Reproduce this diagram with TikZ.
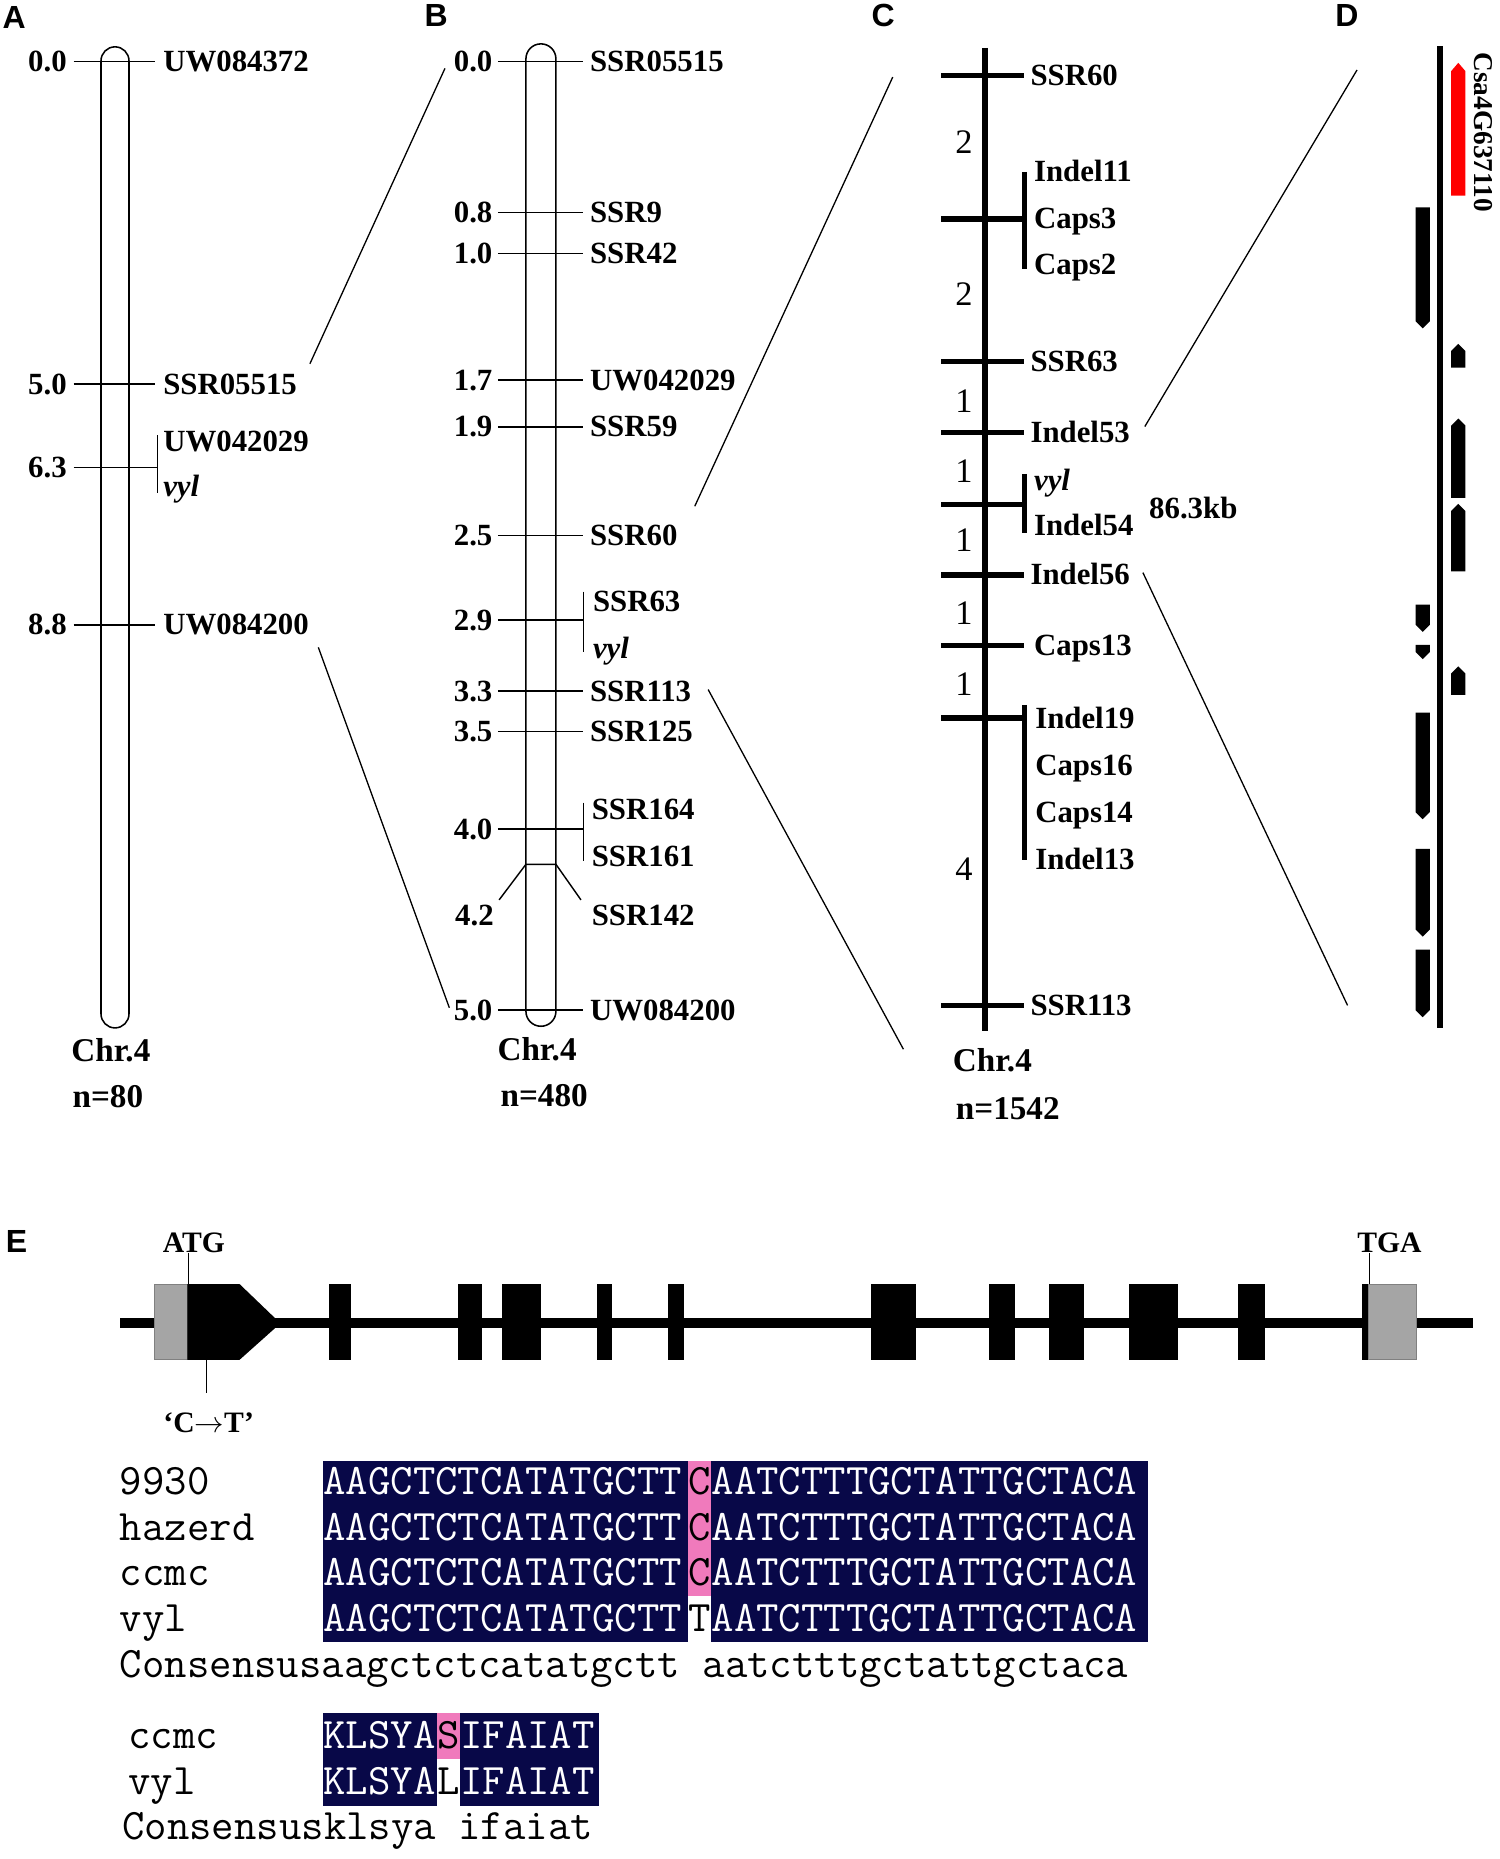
\documentclass[tikz,border=0pt]{standalone}
\usepackage{fontspec}
\setmainfont{Liberation Serif}
\setsansfont{Liberation Sans}
\definecolor{alnblue}{RGB}{8,8,72}
\definecolor{alnpink}{RGB}{240,122,188}
\definecolor{utrgray}{RGB}{165,165,165}
\newcommand{\seq}[1]{{\ttfamily\fontsize{36.7}{36.7}\selectfont #1}}
\begin{document}
\begin{tikzpicture}[x=1pt, y=-1pt,
    every node/.style={inner sep=0pt, text depth=0pt},
    mlabel/.style={font=\bfseries\fontsize{26}{28}\selectfont, text height=17pt},
    vlabel/.style={font=\bfseries\itshape\fontsize{26}{28}\selectfont, text height=17pt},
    chrlabel/.style={font=\bfseries\fontsize{28}{30}\selectfont, text height=18.5pt},
    panel/.style={font=\sffamily\bfseries\fontsize{27}{29}\selectfont, text height=19.3pt},
    intnum/.style={font=\fontsize{29}{31}\selectfont, text height=19.6pt},
    chrom/.style={line width=1.3pt},
    tick/.style={line width=1.2pt},
    zoomline/.style={line width=1.1pt},
    seqtext/.style={text height=22.4pt}]

    % Define page
    \useasboundingbox (0,0) rectangle (1265,1568);
    \fill[white] (0,0) rectangle (1265,1568);

    % Panel A
    \node[panel] (pA) at (12,14) {A};
    \draw[chrom, rounded corners=11.8pt] (85.2,39.5) rectangle (108.8,867);
    \foreach \y/\cm/\nm in {52/0.0/UW084372, 324/5.0/SSR05515, 527/8.8/UW084200}{
        \draw[tick] (62,\y) -- (131,\y);
        \node[mlabel, anchor=east] (acm\nm) at (56.5,\y) {\cm};
        \node[mlabel, anchor=west] (a\nm) at (137.5,\y) {\nm};
    }
    \draw[tick] (62,394.5) -- (132.7,394.5);
    \draw[tick] (132.7,367) -- (132.7,416);
    \node[mlabel, anchor=east] (acmvyl) at (56.5,394.5) {6.3};
    \node[mlabel, anchor=west] (aUW042029) at (137.5,372.6) {UW042029};
    \node[vlabel, anchor=west] (avyl) at (137.5,410) {vyl};
    \node[chrlabel] (achr) at (93.5,886) {Chr.4};
    \node[chrlabel] (an) at (91,925) {n=80};

    % Panel B
    \node[panel] (pB) at (368,13) {B};
    \draw[chrom, rounded corners=12.6pt] (443.6,37) rectangle (468.9,865.6);
    \foreach \y/\cm/\nm in {51.7/0.0/SSR05515, 179.3/0.8/SSR9, 214/1.0/SSR42,
                            320.5/1.7/UW042029, 360/1.9/SSR59, 451.6/2.5/SSR60,
                            583/3.3/SSR113, 617/3.5/SSR125, 852/5.0/UW084200}{
        \draw[tick] (420,\y) -- (492,\y);
        \node[mlabel, anchor=east] (bcm\nm) at (415.5,\y) {\cm};
        \node[mlabel, anchor=west] (b\nm) at (497.5,\y) {\nm};
    }
    \draw[tick] (420,523) -- (492,523);
    \draw[tick] (492,499) -- (492,550);
    \node[mlabel, anchor=east] (bcmvyl) at (415.5,523) {2.9};
    \node[mlabel, anchor=west] (bSSR63) at (500,507.4) {SSR63};
    \node[vlabel, anchor=west] (bvyl) at (500,547) {vyl};
    \draw[tick] (420,699.4) -- (492,699.4);
    \draw[tick] (492,677) -- (492,726);
    \node[mlabel, anchor=east] (bcm40) at (415.5,699.4) {4.0};
    \node[mlabel, anchor=west] (bSSR164) at (499,683) {SSR164};
    \node[mlabel, anchor=west] (bSSR161) at (499,722) {SSR161};
    \draw[tick] (421,759) -- (443.6,729) -- (468.9,729) -- (490,759);
    \node[mlabel, anchor=east] (bcm42) at (416.6,772) {4.2};
    \node[mlabel, anchor=west] (bSSR142) at (499,772) {SSR142};
    \node[chrlabel] (bchr) at (453,885) {Chr.4};
    \node[chrlabel] (bn) at (459,924) {n=480};

    % Panel C
    \node[panel] (pC) at (745,13) {C};
    \draw[line width=5.5pt] (831,40.3) -- (831,870);
    \foreach \y in {63.6, 184.6, 305, 364.7, 425.4, 484.8, 544.5, 605.8, 848}
        \draw[line width=4.8pt] (794,\y) -- (864,\y);
    \draw[line width=4.5pt] (864,145) -- (864,227);
    \draw[line width=4.5pt] (864,399.6) -- (864,449.5);
    \draw[line width=4.5pt] (864,594.6) -- (864,725.4);
    \foreach \x/\y/\nm in {869/63.6/SSR60, 872/144.3/Indel11, 872/184.6/Caps3,
                           872/222.7/Caps2, 869/305/SSR63, 869/364.7/Indel53,
                           872/443/Indel54, 869/484.8/Indel56, 872/544.5/Caps13,
                           873/605.8/Indel19, 873/646/Caps16, 873/685/Caps14,
                           873/724.6/Indel13, 869/848/SSR113}
        \node[mlabel, anchor=west] (c\nm) at (\x,\y) {\nm};
    \node[vlabel, anchor=west] (cvyl) at (872,405) {vyl};
    \foreach \y/\d [count=\i] in {119.4/2, 248/2, 338/1, 397/1, 455/1, 517/1, 577/1, 733/4}
        \node[intnum] (cint\i) at (813,\y) {\d};
    \node[mlabel] (ckb) at (1006.5,429) {86.3kb};
    \node[chrlabel] (cchr) at (837,894.7) {Chr.4};
    \node[chrlabel] (cn) at (850,935) {n=1542};

    % Panel D
    \node[panel] (pD) at (1136,13) {D};
    \draw[line width=5pt] (1214.5,39) -- (1214.5,867);
    \fill[red] (1224,165) -- (1236,165) -- (1236,60) -- (1230,53) -- (1224,60) -- cycle;
    \foreach \ya/\yb in {175/277, 510/533, 544/556, 601/691, 716/790, 801/858}
        \fill (1194,\ya) -- (1206,\ya) -- (1206,\yb-6) -- (1200,\yb) -- (1194,\yb-6) -- cycle;
    \foreach \ya/\yb in {290/310, 353/420, 425/482, 562/586}
        \fill (1224,\yb) -- (1236,\yb) -- (1236,\ya+6) -- (1230,\ya) -- (1224,\ya+6) -- cycle;
    \node[rotate=-90, font=\bfseries\fontsize{23}{25}\selectfont, text height=15.2pt] (dgene) at (1251,111.5) {Csa4G637110};

    % Zoom lines between panels
    \coordinate (ab1) at (261.4,306.8);
    \coordinate (ab2) at (375.3,57.7);
    \coordinate (ab3) at (268.5,546);
    \coordinate (ab4) at (379,850);
    \coordinate (bc1) at (586,427);
    \coordinate (bc2) at (753,65);
    \coordinate (bc3) at (597.3,581.6);
    \coordinate (bc4) at (762,885);
    \coordinate (cd1) at (965.6,359.8);
    \coordinate (cd2) at (1144.6,59);
    \coordinate (cd3) at (964,483);
    \coordinate (cd4) at (1136.6,848);
    \draw[zoomline] (ab1) -- (ab2);
    \draw[zoomline] (ab3) -- (ab4);
    \draw[zoomline] (bc1) -- (bc2);
    \draw[zoomline] (bc3) -- (bc4);
    \draw[zoomline] (cd1) -- (cd2);
    \draw[zoomline] (cd3) -- (cd4);

    % Panel E: gene model
    \node[panel] (pE) at (14,1047) {E};
    \fill (101,1111.8) rectangle (1242,1120.2);
    \filldraw[fill=utrgray, draw=gray, line width=0.8pt] (130,1083) rectangle (158,1147);
    \fill (158,1083) -- (202,1083) -- (232,1111.8) -- (232,1120.2) -- (202,1147) -- (158,1147) -- cycle;
    \foreach \xa/\xb in {277.5/296, 386/406.7, 423/456, 503.5/516, 563.6/576.6,
                         734.5/773, 834/856, 885/914, 952.6/993.5, 1044/1067, 1148.6/1154.6}
        \fill (\xa,1083) rectangle (\xb,1147);
    \filldraw[fill=utrgray, draw=gray, line width=0.8pt] (1154.6,1083) rectangle (1195,1147);
    \node[mlabel, font=\bfseries\fontsize{25}{27}\selectfont] (atg) at (163.5,1048) {ATG};
    \node[mlabel, font=\bfseries\fontsize{25}{27}\selectfont] (tga) at (1172,1048) {TGA};
    \node[mlabel, font=\bfseries\fontsize{25}{27}\selectfont] (ct) at (176,1200) {‘C$\rightarrow$T’};
    \coordinate (atgpin) at (159,1083);
    \coordinate (tgapin) at (1155,1083);
    \coordinate (ctpin) at (174,1147);
    \coordinate (ctend) at (174,1175);
    \draw[line width=0.8pt] (atg.south -| atgpin) -- (atgpin);
    \draw[line width=0.8pt] (tga.south -| tgapin) -- (tgapin);
    \draw[line width=0.8pt] (ctpin) -- (ctend);

    % Panel E: DNA alignment
    \fill[alnblue] (272.6,1232) rectangle (580,1385);
    \fill[alnblue] (600,1232) rectangle (968.5,1385);
    \fill[alnpink] (580,1232) rectangle (600,1346.5);
    \foreach \y/\nm/\b in {1249.5/9930/C, 1288/hazerd/C, 1326.5/ccmc/C, 1364.5/vyl/T}{
        \node[seqtext, anchor=west] (n\nm) at (101,\y) {\seq{\nm}};
        \node[seqtext, anchor=west, text=white] (s\nm) at (272.6,\y) {\seq{AAGCTCTCATATGCTT}};
        \node[seqtext] (b\nm) at (590,\y) {\seq{\b}};
        \node[seqtext, anchor=west, text=white] (t\nm) at (600,\y) {\seq{AATCTTTGCTATTGCTACA}};
    }
    \node[seqtext, anchor=west] (ncons) at (101,1403.5) {\seq{Consensusaagctctcatatgctt aatctttgctattgctaca}};

    % Panel E: protein alignment
    \fill[alnblue] (272.6,1445) rectangle (368.5,1523.6);
    \fill[alnblue] (388,1445) rectangle (505.6,1523.6);
    \fill[alnpink] (368.5,1445) rectangle (388,1484);
    \foreach \y/\nm/\aa in {1463.5/ccmc/S, 1502.5/vyl/L}{
        \node[seqtext, anchor=west] (p\nm) at (108,\y) {\seq{\nm}};
        \node[seqtext, anchor=west, text=white] (k\nm) at (272.6,\y) {\seq{KLSYA}};
        \node[seqtext] (q\nm) at (378.25,\y) {\seq{\aa}};
        \node[seqtext, anchor=west, text=white] (i\nm) at (388,\y) {\seq{IFAIAT}};
    }
    \node[seqtext, anchor=west] (pcons) at (103,1540.5) {\seq{Consensusklsya ifaiat}};

\end{tikzpicture}
\end{document}
